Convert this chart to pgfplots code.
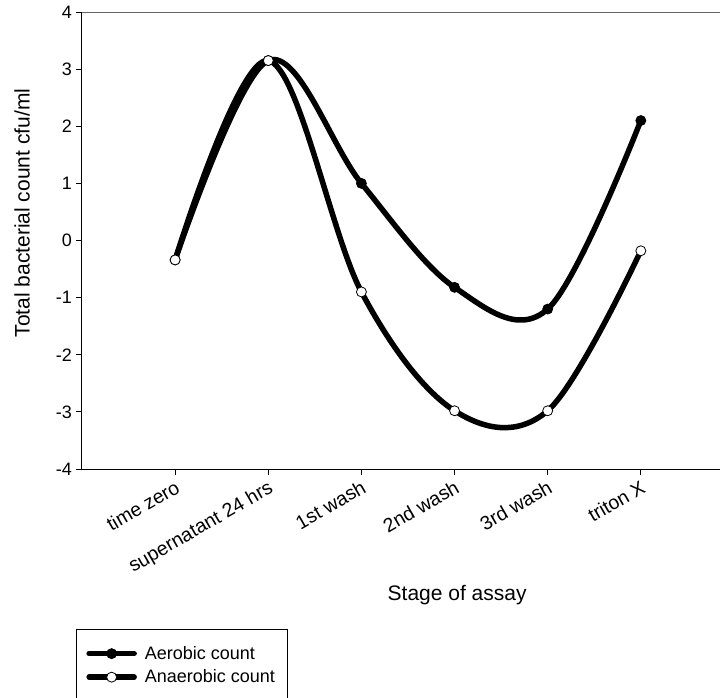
\documentclass[border=0pt]{standalone}
\usepackage{fontspec}
\setmainfont{Liberation Sans}
\usepackage{pgfplots}
\pgfplotsset{compat=1.18}

\begin{document}
\begin{tikzpicture}
% picture frame: axis box lower-left corner sits at (0,0)
\useasboundingbox (-82pt,-228pt) rectangle (645pt,469pt);
\begin{axis}[
    scale only axis,
    width=638pt, height=457pt,
    xmin=-1, xmax=5.85,
    ymin=-4, ymax=4,
    axis x line*=bottom, axis y line*=left,
    axis line style={-, line width=1pt},
    xtick={0,1,2,3,4,5},
    xticklabels={time zero, supernatant 24 hrs, 1st wash, 2nd wash, 3rd wash, triton X},
    ytick={-4,-3,-2,-1,0,1,2,3,4},
    yticklabels={-4,-3,-2,-1,0,1,2,3,4},
    tick align=outside,
    major tick length=6pt,
    tick style={line width=0.8pt, black},
    xticklabel style={rotate=30, anchor=north east, inner sep=3pt,
        font=\fontsize{19.5}{19.5}\selectfont},
    yticklabel style={font=\fontsize{18}{18}\selectfont, inner sep=4pt},
    xlabel={Stage of assay},
    ylabel={Total bacterial count cfu/ml},
    label style={font=\fontsize{21}{21}\selectfont},
    xlabel style={at={(axis description cs:0.588,-0.276)}, anchor=center},
    ylabel style={at={(axis description cs:-0.094,0.56)}, anchor=center},
    clip=false,
    legend style={at={(axis description cs:-0.0094,-0.35)}, anchor=north west,
        draw=black, line width=0.8pt, inner xsep=10pt, inner ysep=15pt,
        font=\fontsize{18}{18}\selectfont, row sep=5pt,
        /tikz/every odd column/.append style={column sep=6pt},
        nodes={inner xsep=2pt}},
    legend cell align=left,
    legend image code/.code={
        \draw[mark repeat=2, mark phase=2, #1]
            plot coordinates {(0pt,0pt) (22.5pt,0pt) (45pt,0pt)};},
]

% aerobic count
\addplot[black, line width=5.5pt, line cap=round, smooth, tension=0.58,
    mark=*, mark size=5pt, mark options={line width=0.8pt, fill=black}]
    coordinates {(0,-0.34) (1,3.15) (2,1.00) (3,-0.82) (4,-1.20) (5,2.10)};
\addlegendentry{Aerobic count}

% anaerobic count
\addplot[black, line width=5.5pt, line cap=round, smooth, tension=0.58,
    mark=*, mark size=5pt, mark options={line width=0.8pt, fill=white}]
    coordinates {(0,-0.34) (1,3.15) (2,-0.90) (3,-2.98) (4,-2.98) (5,-0.18)};
\addlegendentry{Anaerobic count}

% grey top frame line
\draw[line width=1pt, black!60] (rel axis cs:0,1) -- (rel axis cs:1,1);
\end{axis}
\end{tikzpicture}
\end{document}
